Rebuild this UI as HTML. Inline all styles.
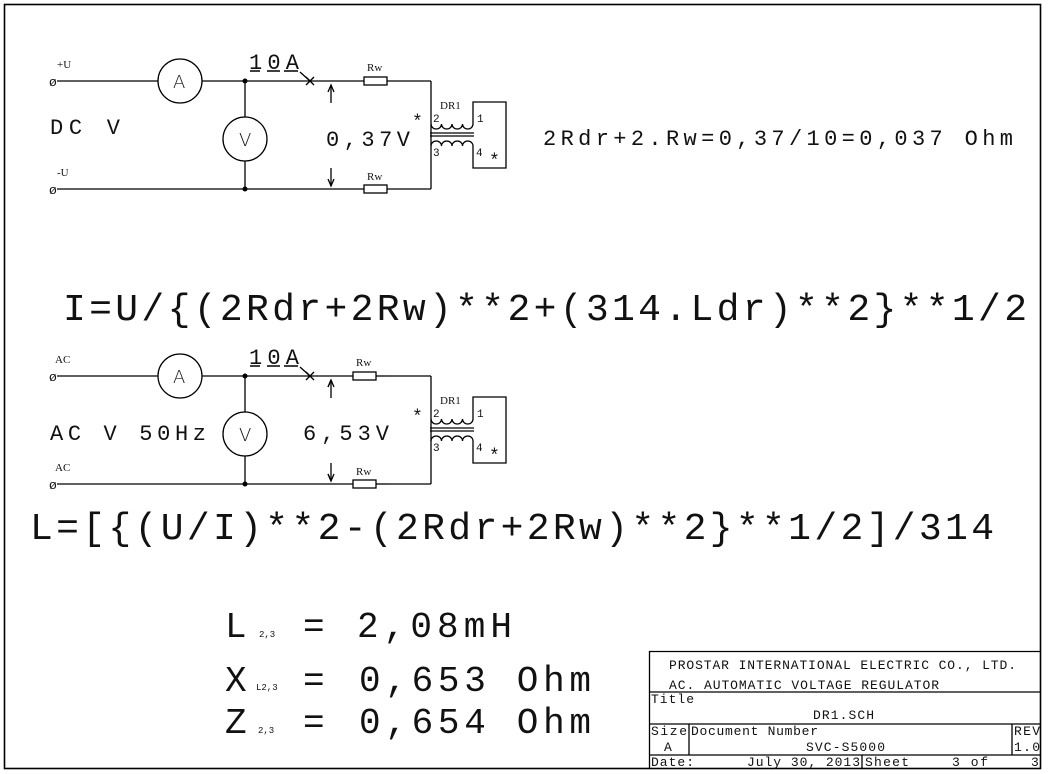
<!DOCTYPE html>
<html><head><meta charset="utf-8"><style>
html,body{margin:0;padding:0;background:#fff;}
svg{display:block;}
text{font-family:"Liberation Mono",monospace;fill:#111;}
.s{font-family:"Liberation Serif",serif;}
</style></head><body>
<svg width="1048" height="774" viewBox="0 0 1048 774" xmlns="http://www.w3.org/2000/svg">
<g stroke="#000" stroke-width="1.3" fill="none">
<rect x="4.5" y="4.5" width="1036" height="764" stroke-width="1.6"/>
</g>
<defs>
<g id="ckt">
 <g stroke="#000" stroke-width="1.3" fill="none">
  <line x1="57" y1="81" x2="158" y2="81"/>
  <circle cx="180" cy="81" r="22"/>
  <line x1="202" y1="81" x2="364" y2="81"/>
  <line x1="245" y1="81" x2="245" y2="117"/>
  <circle cx="245" cy="139" r="22"/>
  <line x1="245" y1="161" x2="245" y2="189"/>
  <line x1="57" y1="189" x2="364" y2="189"/>
  <line x1="306" y1="77" x2="314" y2="85"/>
  <line x1="314" y1="77" x2="306" y2="85"/>
  <line x1="300" y1="72" x2="310" y2="81"/>
  <line x1="331" y1="85" x2="331" y2="103"/>
  <polyline points="328,92 331,85 334,92"/>
  <line x1="331" y1="168" x2="331" y2="186"/>
  <polyline points="328,179 331,186 334,179"/>
  <rect x="364" y="77" width="23" height="8"/>
  <rect x="364" y="185" width="23" height="8"/>
  <line x1="387" y1="81" x2="431" y2="81"/>
  <line x1="387" y1="189" x2="431" y2="189"/>
  <line x1="431" y1="81" x2="431" y2="189"/>
  <path d="M431,124 a5.25,5 0 0 0 10.5,0 a5.25,5 0 0 0 10.5,0 a5.25,5 0 0 0 10.5,0 a5.25,5 0 0 0 10.5,0"/>
  <path d="M431,146 a5.25,5 0 0 1 10.5,0 a5.25,5 0 0 1 10.5,0 a5.25,5 0 0 1 10.5,0 a5.25,5 0 0 1 10.5,0"/>
  <line x1="430" y1="133" x2="474" y2="133"/>
  <line x1="430" y1="136" x2="474" y2="136"/>
  <polyline points="473,124 473,102 506,102 506,168 473,168 473,146"/>
 </g>
 <g fill="#000"><circle cx="245" cy="81" r="2.5"/><circle cx="245" cy="189" r="2.5"/></g>
 <text x="173" y="88" font-size="18" style="font-family:'DejaVu Sans',sans-serif;font-weight:200">A</text>
 <text x="239" y="146" font-size="18" style="font-family:'DejaVu Sans',sans-serif;font-weight:200">V</text>
 <text x="49" y="86" font-size="13">ø</text>
 <text x="49" y="194" font-size="13">ø</text>
 <text x="249" y="69" font-size="22" textLength="50">10A</text>
 <line x1="250" y1="71" x2="260" y2="71" stroke="#000" stroke-width="1.5"/>
 <line x1="267" y1="71" x2="280" y2="71" stroke="#000" stroke-width="1.5"/>
 <line x1="284" y1="71" x2="298" y2="71" stroke="#000" stroke-width="1.5"/>
 <text class="s" x="440" y="109" font-size="11">DR1</text>
 <text x="433" y="122" font-size="11">2</text>
 <text x="477" y="122" font-size="11">1</text>
 <text x="433" y="156" font-size="11">3</text>
 <text x="476" y="156" font-size="11">4</text>
 <text x="412" y="127" font-size="18">*</text>
 <text x="489" y="166" font-size="18">*</text>
</g>
</defs>
<use href="#ckt"/>
<text class="s" x="367" y="71" font-size="11">Rw</text>
<text class="s" x="367" y="180" font-size="11">Rw</text>
<text class="s" x="57" y="68" font-size="11">+U</text>
<text class="s" x="57" y="176" font-size="11">-U</text>
<text x="50" y="134" font-size="22" textLength="70">DC  V</text>
<text x="326" y="146" font-size="22" textLength="84">0,37V</text>
<text x="543" y="145" font-size="22" textLength="470">2Rdr+2.Rw=0,37/10=0,037 Ohm</text>

<text x="63" y="320" font-size="38" textLength="964">I=U/{(2Rdr+2Rw)**2+(314.Ldr)**2}**1/2</text>

<g transform="translate(0,295)">
<use href="#ckt"/>
</g>
<rect x="330" y="360" width="60" height="140" fill="#fff"/>
<g stroke="#000" stroke-width="1.3" fill="none">
 <line x1="330" y1="376" x2="353" y2="376"/>
 <line x1="330" y1="484" x2="353" y2="484"/>
 <rect x="353" y="372" width="23" height="8"/>
 <rect x="353" y="480" width="23" height="8"/>
 <line x1="376" y1="376" x2="390" y2="376"/>
 <line x1="376" y1="484" x2="390" y2="484"/>
 <line x1="331" y1="380" x2="331" y2="398"/>
 <polyline points="328,387 331,380 334,387"/>
 <line x1="331" y1="463" x2="331" y2="481"/>
 <polyline points="328,474 331,481 334,474"/>
</g>
<text class="s" x="356" y="366" font-size="11">Rw</text>
<text class="s" x="356" y="475" font-size="11">Rw</text>
<text class="s" x="55" y="363" font-size="11">AC</text>
<text class="s" x="55" y="471" font-size="11">AC</text>
<text x="50" y="440" font-size="22" textLength="156">AC V 50Hz</text>
<text x="303" y="440" font-size="22" textLength="86">6,53V</text>

<text x="30" y="539" font-size="38" textLength="964">L=[{(U/I)**2-(2Rdr+2Rw)**2}**1/2]/314</text>

<text x="225" y="637" font-size="36" textLength="25">L</text>
<text x="259" y="637" font-size="9">2,3</text>
<text x="303" y="637" font-size="36" textLength="24">=</text>
<text x="357" y="637" font-size="36" textLength="155">2,08mH</text>
<text x="225" y="691" font-size="36" textLength="26">X</text>
<text x="256" y="690" font-size="9">L2,3</text>
<text x="303" y="691" font-size="36" textLength="24">=</text>
<text x="359" y="691" font-size="36" textLength="232">0,653 Ohm</text>
<text x="225" y="733" font-size="36" textLength="26">Z</text>
<text x="258" y="733" font-size="9">2,3</text>
<text x="303" y="733" font-size="36" textLength="24">=</text>
<text x="359" y="733" font-size="36" textLength="232">0,654 Ohm</text>

<g stroke="#000" stroke-width="1.3" fill="none">
 <polyline points="649.5,768 649.5,651.5 1041,651.5"/>
 <line x1="649" y1="692" x2="1041" y2="692"/>
 <line x1="649" y1="724" x2="1041" y2="724"/>
 <line x1="649" y1="755" x2="1041" y2="755"/>
 <line x1="689" y1="724" x2="689" y2="755"/>
 <line x1="1012" y1="724" x2="1012" y2="755"/>
 <line x1="862" y1="755" x2="862" y2="768"/>
</g>
<g font-size="13">
<text x="669" y="669" textLength="347">PROSTAR INTERNATIONAL ELECTRIC CO., LTD.</text>
<text x="669" y="689" textLength="270">AC. AUTOMATIC VOLTAGE REGULATOR</text>
<text x="651" y="703" textLength="43">Title</text>
<text x="813" y="719" textLength="61">DR1.SCH</text>
<text x="651" y="735" textLength="36">Size</text>
<text x="691" y="735" textLength="127">Document Number</text>
<text x="1014" y="735" textLength="26">REV</text>
<text x="664" y="751">A</text>
<text x="806" y="751" textLength="79">SVC-S5000</text>
<text x="1014" y="751" textLength="26">1.0</text>
<text x="651" y="766" textLength="43">Date:</text>
<text x="747" y="766" textLength="113">July 30, 2013</text>
<text x="865" y="766" textLength="44">Sheet</text>
<text x="952" y="766" textLength="36">3 of</text>
<text x="1031" y="766">3</text>
</g>
</svg>
</body></html>
